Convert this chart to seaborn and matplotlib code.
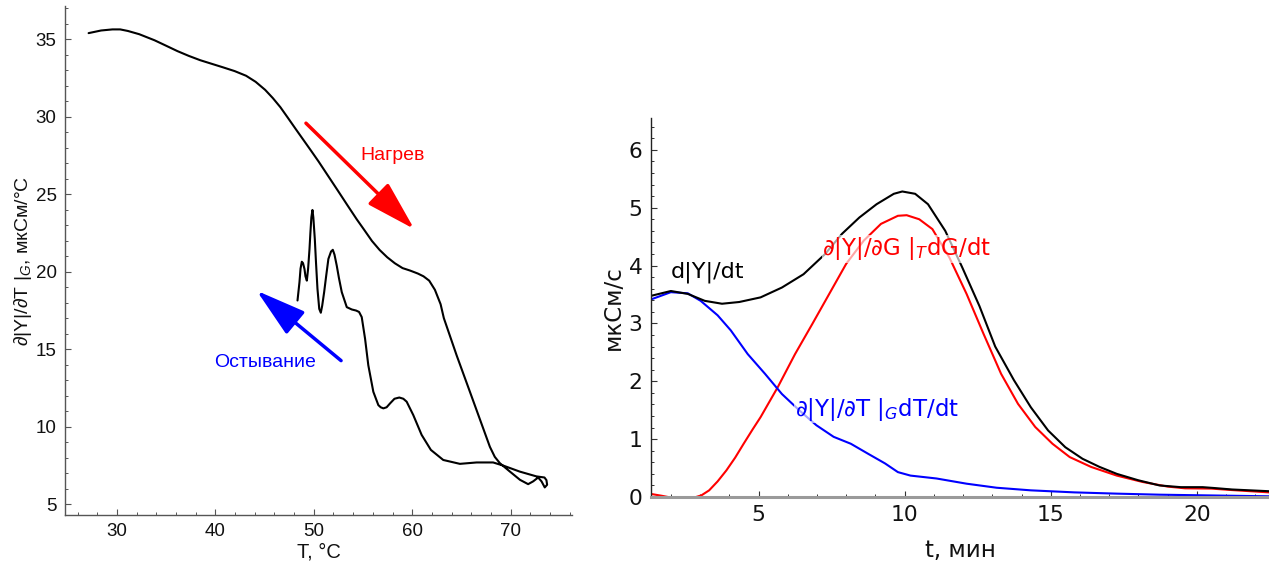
import matplotlib
matplotlib.use("Agg")
import matplotlib.pyplot as plt
import seaborn as sns
import pandas as pd
from matplotlib.ticker import MultipleLocator

# ---------------- data: left panel (hysteresis loop) ----------------
heat_T = [27.1, 28.37, 29.53, 30.31, 31.09, 32.25, 33.8, 34.97, 36.13, 37.29, 38.46,
          39.62, 40.78, 41.95, 43.11, 44.08, 45.05, 45.83, 46.6, 47.38, 48.15, 48.93,
          49.71, 50.48, 51.45, 52.42, 53.39, 54.36, 55.14, 55.91, 56.69, 57.46, 58.24,
          59.02, 59.79, 60.57, 61.15, 61.73, 62.31, 62.89, 63.22, 64.52, 65.87, 67.22,
          67.9, 68.4, 68.92, 69.94, 70.96, 71.79, 72.3, 72.81, 73.15, 73.48, 73.72, 73.65]
heat_Y = [35.39, 35.56, 35.63, 35.63, 35.53, 35.32, 34.93, 34.58, 34.23, 33.92, 33.64,
          33.41, 33.18, 32.94, 32.64, 32.25, 31.73, 31.2, 30.61, 29.91, 29.21, 28.51,
          27.81, 27.11, 26.18, 25.25, 24.31, 23.38, 22.68, 21.98, 21.4, 20.93, 20.54,
          20.23, 20.07, 19.88, 19.7, 19.42, 18.83, 17.9, 17.0, 14.6, 12.25, 9.89,
          8.7, 8.05, 7.64, 7.1, 6.57, 6.29, 6.47, 6.72, 6.47, 6.08, 6.25, 6.55]
cool_T = [73.45, 72.64, 70.94, 69.25, 68.23, 66.55, 64.85, 63.16, 61.9, 60.96, 60.11,
          59.44, 59.1, 58.69, 58.2, 57.75, 57.4, 57.07, 56.8, 56.56, 56.05, 55.54, 55.21,
          54.87, 54.6, 54.3, 53.86, 53.35, 52.84, 52.55, 52.33, 52.1, 51.93, 51.75, 51.48,
          51.25, 51.05, 50.85, 50.71, 50.55, 50.37, 50.22, 50.1, 49.95, 49.86, 49.75,
          49.65, 49.56, 49.42, 49.29, 49.15, 49.05, 48.9, 48.78, 48.65, 48.54, 48.34]
cool_Y = [6.72, 6.79, 7.1, 7.49, 7.69, 7.69, 7.6, 7.85, 8.5, 9.47, 10.75,
          11.61, 11.8, 11.88, 11.8, 11.5, 11.25, 11.18, 11.25, 11.39, 12.25, 13.96, 15.67,
          17.07, 17.4, 17.49, 17.56, 17.71, 18.68, 19.6, 20.39, 21.1, 21.41, 21.3, 20.82,
          19.7, 18.68, 17.8, 17.35, 17.6, 18.89, 20.6, 22.1, 23.5, 23.98, 23.5,
          22.5, 21.46, 20.2, 19.42, 19.7, 20.17, 20.55, 20.64, 20.2, 19.32, 18.14]

# ---------------- data: right panel (time derivatives) ----------------
t_total = [1.35, 2.0, 2.58, 3.16, 3.75, 4.34, 5.07, 5.8, 6.54, 7.28, 7.86, 8.45,
           9.04, 9.63, 9.92, 10.36, 10.8, 11.39, 11.97, 12.56, 13.1, 13.74, 14.32,
           14.91, 15.5, 16.09, 16.67, 17.26, 17.99, 18.72, 19.45, 20.2, 20.6, 21.2, 22.47]
y_total = [3.48, 3.56, 3.51, 3.39, 3.34, 3.37, 3.45, 3.62, 3.85, 4.2, 4.55, 4.83,
           5.06, 5.24, 5.28, 5.24, 5.06, 4.6, 3.97, 3.3, 2.6, 2.02, 1.55,
           1.15, 0.86, 0.66, 0.52, 0.40, 0.29, 0.20, 0.17, 0.17, 0.155, 0.13, 0.10]
t_G = [1.35, 1.7, 2.0, 2.4, 2.8, 3.05, 3.31, 3.6, 3.9, 4.2, 4.49, 4.8, 5.07, 5.66,
       6.25, 6.84, 7.42, 8.0, 8.6, 9.19, 9.77, 10.07, 10.5, 10.95, 11.53, 12.12,
       12.7, 13.3, 13.88, 14.47, 15.06, 15.65, 16.38, 17.26, 18.14, 19.0, 19.6,
       20.5, 21.2, 22.47]
y_G = [0.05, 0.02, -0.01, -0.03, -0.01, 0.03, 0.115, 0.27, 0.46, 0.68, 0.92, 1.17,
       1.38, 1.9, 2.47, 2.99, 3.51, 4.03, 4.43, 4.72, 4.86, 4.87, 4.8, 4.63, 4.14,
       3.51, 2.82, 2.13, 1.61, 1.21, 0.92, 0.69, 0.52, 0.37, 0.26, 0.18, 0.15,
       0.145, 0.12, 0.08]
t_T = [1.35, 2.0, 2.58, 3.02, 3.6, 4.05, 4.63, 5.22, 5.8, 6.39, 6.98, 7.57, 8.16,
       8.74, 9.33, 9.77, 10.2, 11.09, 12.12, 13.15, 14.32, 15.8, 17.26, 18.73,
       20.2, 22.47]
y_T = [3.42, 3.54, 3.52, 3.39, 3.14, 2.88, 2.47, 2.13, 1.78, 1.50, 1.24, 1.04,
       0.92, 0.75, 0.58, 0.43, 0.37, 0.32, 0.23, 0.16, 0.115, 0.08, 0.058, 0.04,
       0.029, 0.012]

left_xticks = [30, 40, 50, 60, 70]
left_yticks = [5, 10, 15, 20, 25, 30, 35]
right_xticks = [5, 10, 15, 20]
right_yticks = [0, 1, 2, 3, 4, 5, 6]

# ---------------- style ----------------
sns.set_theme(style="white")
plt.rcParams["font.family"] = ["Liberation Sans", "DejaVu Sans"]
plt.rcParams["mathtext.fontset"] = "custom"
plt.rcParams["mathtext.rm"] = "Liberation Sans"
plt.rcParams["mathtext.it"] = "Liberation Sans:italic"
plt.rcParams["lines.solid_joinstyle"] = "round"

LEFTF = ["Liberation Sans", "DejaVu Sans"]
RIGHTF = ["DejaVu Sans"]

fig = plt.figure(figsize=(12.69, 5.70), dpi=100)
axL = fig.add_axes([65 / 1269, 1 - 515 / 570, 507 / 1269, 509 / 570])
axR = fig.add_axes([651 / 1269, 1 - 497 / 570, 618 / 1269, 379 / 570])

# ---- left panel ----
loop = pd.DataFrame({"T": heat_T + cool_T, "Y": heat_Y + cool_Y})
sns.lineplot(data=loop, x="T", y="Y", sort=False, estimator=None, color="black",
             lw=1.5, ax=axL)
axL.set_xlim(24.7, 76.25)
axL.set_ylim(4.3, 37.14)
axL.set_xticks(left_xticks)
axL.set_yticks(left_yticks)
axL.xaxis.set_minor_locator(MultipleLocator(2))
axL.yaxis.set_minor_locator(MultipleLocator(1))
for s in ["top", "right"]:
    axL.spines[s].set_visible(False)
for s in ["left", "bottom"]:
    axL.spines[s].set_color("#555555")
    axL.spines[s].set_linewidth(1.0)
axL.tick_params(which="both", bottom=True, left=True, top=False, right=False)
axL.tick_params(which="major", direction="in", length=4, width=0.8, color="#555555",
                labelsize=13.5, labelcolor="#111111", pad=6)
axL.tick_params(which="minor", direction="in", length=2.2, width=0.7, color="#555555")
for lab in axL.get_xticklabels() + axL.get_yticklabels():
    lab.set_family(LEFTF)
axL.set_xlabel("T, °C", fontsize=14.5, family=LEFTF, color="#111111", va="center")
axL.xaxis.set_label_coords(0.5, -0.072)
axL.set_ylabel(r"∂|Y|/∂T $|_{\mathit{G}}$, мкСм/°C", fontsize=14, family=LEFTF,
               color="#111111", va="center", ha="center")
axL.yaxis.set_label_coords(-0.083, 0.5)

axL.annotate("", xy=(60.21, 22.75), xytext=(49.2, 29.58),
             arrowprops=dict(arrowstyle="-|>,head_length=1.55,head_width=0.45",
                             mutation_scale=20, lw=2.5, color="#ff0000",
                             shrinkA=0, shrinkB=0))
axL.annotate("", xy=(44.19, 18.77), xytext=(52.77, 14.26),
             arrowprops=dict(arrowstyle="-|>,head_length=1.55,head_width=0.45",
                             mutation_scale=20, lw=2.5, color="#0000ff",
                             shrinkA=0, shrinkB=0))
axL.text(58.05, 27.47, "Нагрев", color="#ff0000", fontsize=14, family=LEFTF,
         ha="center", va="center")
axL.text(45.0, 14.16, "Остывание", color="#0000ff", fontsize=14, family=LEFTF,
         ha="center", va="center")

# ---- right panel ----
df = pd.concat([
    pd.DataFrame({"t": t_G, "v": y_G, "s": "G"}),
    pd.DataFrame({"t": t_T, "v": y_T, "s": "T"}),
    pd.DataFrame({"t": t_total, "v": y_total, "s": "total"}),
], ignore_index=True)
pal = {"total": "black", "G": "#ff0000", "T": "#0000ff"}
sns.lineplot(data=df, x="t", y="v", hue="s", palette=pal, estimator=None,
             lw=1.5, legend=False, ax=axR, sort=False)
axR.set_xlim(1.32, 22.47)
axR.set_ylim(0, 6.55)
axR.set_xticks(right_xticks)
axR.set_yticks(right_yticks)
axR.xaxis.set_minor_locator(MultipleLocator(1))
axR.yaxis.set_minor_locator(MultipleLocator(0.2))
for s in ["top", "right"]:
    axR.spines[s].set_visible(False)
axR.spines["left"].set_color("#222222")
axR.spines["left"].set_linewidth(1.0)
axR.spines["bottom"].set_color("#9a9a9a")
axR.spines["bottom"].set_linewidth(2.2)
axR.spines["bottom"].set_zorder(3)
axR.tick_params(which="both", bottom=True, left=True, top=False, right=False)
axR.tick_params(which="major", direction="in", length=4.5, width=0.8, color="#333333",
                labelsize=15.7, labelcolor="#111111", pad=6)
axR.tick_params(which="minor", direction="in", length=2.5, width=0.7, color="#333333")
for lab in axR.get_xticklabels() + axR.get_yticklabels():
    lab.set_family(RIGHTF)
axR.set_xlabel("t, мин", fontsize=16.5, family=RIGHTF, color="#111111", va="center")
axR.xaxis.set_label_coords(0.5, -0.14)
axR.set_ylabel("мкСм/с", fontsize=16.5, family=RIGHTF, color="#111111",
               va="center", ha="center")
axR.yaxis.set_label_coords(-0.0615, 0.5)

bb = dict(facecolor="white", edgecolor="none", alpha=0.65, pad=0.5)
axR.text(3.24, 3.88, "d|Y|/dt", color="black", fontsize=16, family=RIGHTF,
         ha="center", va="center")
axR.text(10.07, 4.29, r"∂|Y|/∂G $|_{\mathit{T}}$dG/dt", color="#ff0000", fontsize=16.5,
         family=RIGHTF, math_fontfamily="dejavusans", ha="center", va="center", bbox=bb)
axR.text(9.04, 1.52, r"∂|Y|/∂T $|_{\mathit{G}}$dT/dt", color="#0000ff", fontsize=16.5,
         family=RIGHTF, math_fontfamily="dejavusans", ha="center", va="center", bbox=bb)

fig.savefig("out.png", dpi=100)
